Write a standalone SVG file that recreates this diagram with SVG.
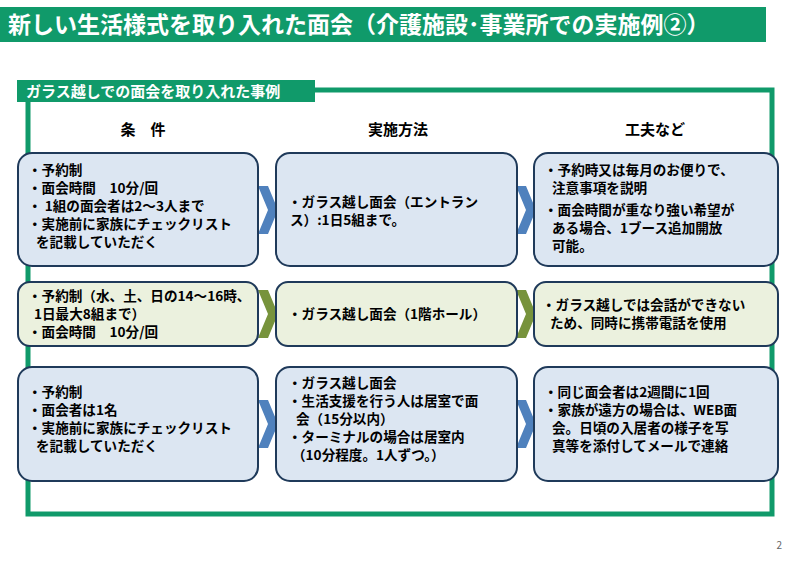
<svg xmlns="http://www.w3.org/2000/svg" width="794" height="561" viewBox="0 0 794 561">
<style>
text{font-family:"Noto Sans CJK JP","Noto Sans CJK SC",sans-serif;font-weight:bold;fill:#000}
.b{font-size:13.6px}
.h{font-size:15px}
.bx{stroke:#1f3a5a;stroke-width:2}
.blue{fill:#dce6f2}.grn{fill:#ebf1de}
</style>
<rect width="794" height="561" fill="#fff"/>
<rect x="0" y="7" width="766" height="35" fill="#109a6a"/>
<text x="8" y="33" style="font-size:23px;fill:#fff">新しい生活様式を取り入れた面会（介護施設･事業所での実施例②）</text>
<rect x="28" y="90" width="744" height="424" fill="none" stroke="#109a6a" stroke-width="5"/>
<rect x="17" y="80" width="298" height="22" fill="#109a6a"/>
<text x="26" y="97" style="font-size:15px;fill:#fff">ガラス越しでの面会を取り入れた事例</text>
<text class="h" x="143" y="135" text-anchor="middle">条　件</text>
<text class="h" x="398" y="135" text-anchor="middle">実施方法</text>
<text class="h" x="655" y="135" text-anchor="middle">工夫など</text>
<g id="connectors">
<path d="M258 186 L268 186 L278 210 L268 234 L258 234 L268 210 Z" fill="#4f81bd"/>
<path d="M516 186 L526 186 L536 210 L526 234 L516 234 L526 210 Z" fill="#4f81bd"/>
<path d="M258 290 L268 290 L278 314 L268 338 L258 338 L268 314 Z" fill="#77933c"/>
<path d="M516 290 L526 290 L536 314 L526 338 L516 338 L526 314 Z" fill="#77933c"/>
<path d="M258 400 L268 400 L278 424 L268 448 L258 448 L268 424 Z" fill="#4f81bd"/>
<path d="M516 400 L526 400 L536 424 L526 448 L516 448 L526 424 Z" fill="#4f81bd"/>
</g>
<g id="r1c1"><rect class="bx blue" x="18" y="153" width="240" height="113" rx="14"/>
<text class="b"><tspan x="28" y="175">・予約制</tspan><tspan x="28" y="193">・面会時間　10分/回</tspan><tspan x="28" y="211">・ 1組の面会者は2～3人まで</tspan><tspan x="28" y="229">・実施前に家族にチェックリスト</tspan><tspan x="36" y="247">を記載していただく</tspan></text></g>
<g id="r1c2"><rect class="bx blue" x="276" y="153" width="241" height="113" rx="14"/>
<text class="b"><tspan x="288" y="207">・ガラス越し面会（エントラン</tspan><tspan x="290" y="225">ス）:1日5組まで。</tspan></text></g>
<g id="r1c3"><rect class="bx blue" x="534" y="153" width="244" height="113" rx="14"/>
<text class="b"><tspan x="544" y="175">・予約時又は毎月のお便りで、</tspan><tspan x="552" y="193">注意事項を説明</tspan><tspan x="544" y="215">・面会時間が重なり強い希望が</tspan><tspan x="552" y="233">ある場合、1ブース追加開放</tspan><tspan x="552" y="251">可能。</tspan></text></g>
<g id="r2c1"><rect class="bx grn" x="18" y="282" width="240" height="64" rx="12"/>
<text class="b"><tspan x="28" y="301">・予約制（水、土、日の14～16時、</tspan><tspan x="34" y="319">1日最大8組まで）</tspan><tspan x="28" y="337">・面会時間　10分/回</tspan></text></g>
<g id="r2c2"><rect class="bx grn" x="276" y="282" width="241" height="64" rx="12"/>
<text class="b" x="288" y="319">・ガラス越し面会（1階ホール）</text></g>
<g id="r2c3"><rect class="bx grn" x="534" y="282" width="244" height="64" rx="12"/>
<text class="b"><tspan x="542" y="310">・ガラス越しでは会話ができない</tspan><tspan x="550" y="328">ため、同時に携帯電話を使用</tspan></text></g>
<g id="r3c1"><rect class="bx blue" x="18" y="367" width="240" height="114" rx="14"/>
<text class="b"><tspan x="28" y="397">・予約制</tspan><tspan x="28" y="415">・面会者は1名</tspan><tspan x="28" y="433">・実施前に家族にチェックリスト</tspan><tspan x="36" y="451">を記載していただく</tspan></text></g>
<g id="r3c2"><rect class="bx blue" x="276" y="367" width="241" height="114" rx="14"/>
<text class="b"><tspan x="288" y="388">・ガラス越し面会</tspan><tspan x="288" y="406">・生活支援を行う人は居室で面</tspan><tspan x="296" y="424">会（15分以内）</tspan><tspan x="288" y="442">・ターミナルの場合は居室内</tspan><tspan x="292" y="460">（10分程度。1人ずつ。）</tspan></text></g>
<g id="r3c3"><rect class="bx blue" x="534" y="367" width="244" height="114" rx="14"/>
<text class="b"><tspan x="544" y="397">・同じ面会者は2週間に1回</tspan><tspan x="544" y="415">・家族が遠方の場合は、WEB面</tspan><tspan x="552" y="433">会。日頃の入居者の様子を写</tspan><tspan x="552" y="451">真等を添付してメールで連絡</tspan></text></g>
<text x="782" y="549" style="font-size:10px;font-weight:normal;fill:#666" text-anchor="end">2</text>
</svg>
